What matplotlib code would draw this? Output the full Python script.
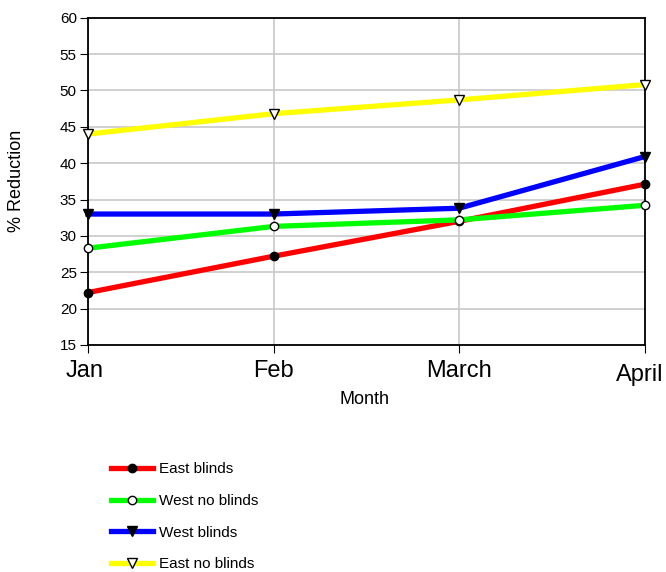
import matplotlib.pyplot as plt
from matplotlib.transforms import ScaledTranslation

# data
months = ['Jan', 'Feb', 'March', 'April']
east_blinds = [22.2, 27.2, 32.0, 37.1]
west_no_blinds = [28.3, 31.3, 32.2, 34.2]
west_blinds = [33.0, 33.0, 33.8, 40.9]
east_no_blinds = [44.0, 46.8, 48.7, 50.8]

plt.rcParams['font.family'] = ['Liberation Sans', 'DejaVu Sans']

fig = plt.figure(figsize=(6.66, 5.72), dpi=100)
ax = fig.add_axes([0.132, 0.397, 0.836, 0.572])

x = range(len(months))
lw = 3.8
ms = 6
ax.plot(x, east_blinds, color='#ff0000', lw=lw, marker='o', ms=ms,
        mfc='black', mec='black', label='East blinds', clip_on=False, zorder=3)
ax.plot(x, west_no_blinds, color='#00ff00', lw=lw, marker='o', ms=ms,
        mfc='white', mec='black', label='West no blinds', clip_on=False, zorder=3)
ax.plot(x, west_blinds, color='#0000ff', lw=lw, marker='v', ms=ms + 1,
        mfc='black', mec='black', label='West blinds', clip_on=False, zorder=3)
ax.plot(x, east_no_blinds, color='#ffff00', lw=lw, marker='v', ms=ms + 1,
        mfc='white', mec='black', label='East no blinds', clip_on=False, zorder=3)

ax.set_xlim(0, len(months) - 1)
ax.set_ylim(15, 60)
ax.set_yticks(range(15, 61, 5))
ax.set_xticks(list(x))
ax.set_xticklabels(months, fontsize=17)
ax.tick_params(axis='y', labelsize=11, length=6, direction='out', pad=2)
ax.tick_params(axis='x', length=6, direction='out', pad=5)

# first and last month labels are nudged in the original
offsets = [(-3, 0), (0, 0), (0, 0), (-5, -4)]
for lbl, (dx, dy) in zip(ax.get_xticklabels(), offsets):
    lbl.set_transform(lbl.get_transform() + ScaledTranslation(dx / 100, dy / 100, fig.dpi_scale_trans))

ax.grid(True, color='#c8c8c8', lw=1.2)
ax.set_axisbelow(True)
for s in ax.spines.values():
    s.set_color('black')
    s.set_linewidth(1.3)

ax.set_xlabel('Month', fontsize=13)
ax.xaxis.set_label_coords(0.497, -0.142)
ax.set_ylabel('% Reduction', fontsize=13)
ax.yaxis.set_label_coords(-0.113, 0.5)

fig.legend(loc='upper left', bbox_to_anchor=(0.155, 0.205), frameon=False,
           fontsize=11, handlelength=2.75, handletextpad=0.4, labelspacing=1.15,
           borderpad=0)

fig.savefig('out.png', dpi=100)
